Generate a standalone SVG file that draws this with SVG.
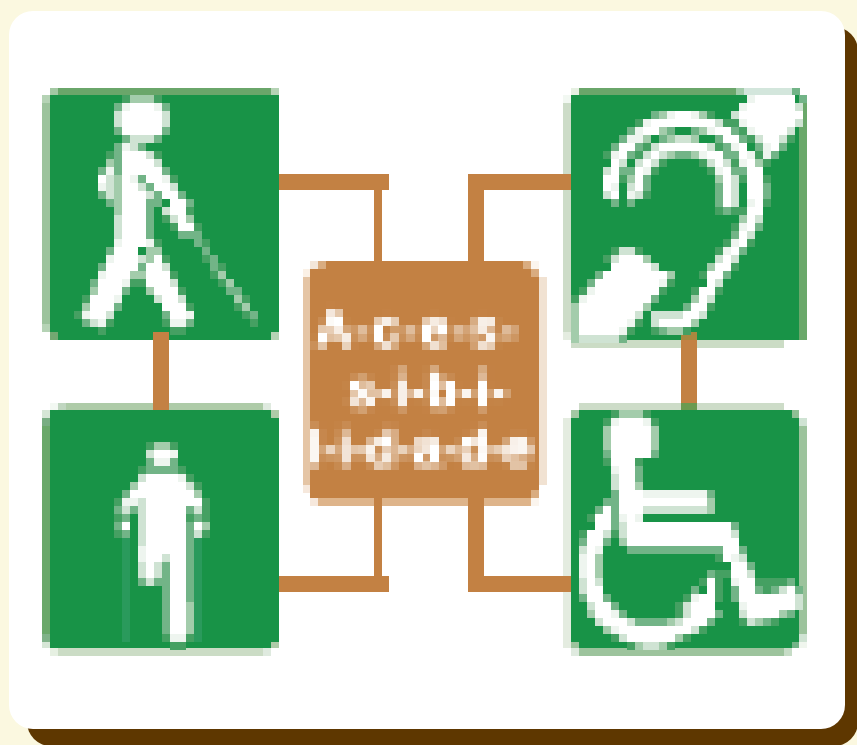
<svg xmlns="http://www.w3.org/2000/svg" width="857" height="745" viewBox="0 0 857 745">
<style>
.w{stroke:#fff}.n{stroke:#eef5ef}.l{stroke:#cfe3d3}.a{stroke:#a3ccab}.m{stroke:#72b487}.d{stroke:#45a062}.s{stroke:#2a9a5c}
path{fill:none;stroke-width:1}
.g{fill:#189347}.c{fill:#c38143}
rect{shape-rendering:crispEdges}
path{shape-rendering:crispEdges}
.t{font-family:"Liberation Sans",Arial,sans-serif;font-size:50px;fill:#fff;stroke:#fff;stroke-width:.6;text-anchor:middle}
</style>
<defs>
<filter id="pix" filterUnits="userSpaceOnUse" primitiveUnits="userSpaceOnUse" x="310" y="261" width="232" height="240" color-interpolation-filters="sRGB">
<feGaussianBlur in="SourceGraphic" stdDeviation="2.4" result="b"/>
<feFlood x="314" y="265" width="1" height="1" flood-color="#000"/>
<feComposite x="310" y="261" width="8" height="8"/>
<feTile x="310" y="261" width="232" height="240" result="a"/>
<feComposite in="b" in2="a" operator="in" x="310" y="261" width="232" height="240"/>
<feMorphology operator="dilate" radius="4" x="310" y="261" width="232" height="240"/>
<feComponentTransfer><feFuncA type="linear" slope="1.5"/></feComponentTransfer>
</filter>
</defs>
<rect width="857" height="745" fill="#fbf8e0"/>
<rect x="27" y="27" width="831" height="719" rx="24" fill="#5e3700" style="shape-rendering:auto"/>
<rect x="9" y="11" width="836" height="718" rx="24" fill="#fff" style="shape-rendering:auto"/>
<g id="connectors">
<rect class="c" x="279" y="174" width="110" height="16"/>
<rect class="c" x="374" y="174" width="8" height="88"/>
<rect class="c" x="468" y="174" width="103" height="16"/>
<rect class="c" x="468" y="174" width="16" height="88"/>
<rect class="c" x="374" y="498" width="8" height="94"/>
<rect class="c" x="279" y="576" width="110" height="16"/>
<rect class="c" x="468" y="498" width="16" height="94"/>
<rect class="c" x="468" y="576" width="103" height="16"/>
<rect class="c" x="153" y="332" width="16" height="78"/>
<rect class="c" x="681" y="332" width="16" height="78"/>
</g>
<g id="center">
<rect x="303" y="277" width="7" height="208" fill="#e5c5a5"/>
<rect x="539" y="277" width="8" height="208" fill="#f1e2d2"/>
<rect x="318" y="498" width="56" height="8" fill="#deb48a"/>
<rect x="382" y="498" width="86" height="8" fill="#deb48a"/>
<rect x="484" y="498" width="49" height="8" fill="#deb48a"/>
<rect class="c" x="318" y="261" width="213" height="8"/>
<rect class="c" x="310" y="269" width="229" height="229"/>
<rect x="310" y="261" width="8" height="8" fill="#f3e6d9"/>
<rect x="318" y="261" width="8" height="8" fill="#d9ac80"/>
<rect x="523" y="261" width="8" height="8" fill="#d9ac80"/>
<rect x="531" y="261" width="8" height="8" fill="#fbf5ee"/>
<rect x="531" y="269" width="8" height="8" fill="#d9ac80"/>
<rect x="303" y="269" width="7" height="8" fill="#fbf1e6"/>
<rect x="303" y="485" width="7" height="8" fill="#f6e8dc"/>
<rect x="310" y="498" width="8" height="8" fill="#f6e8dc"/>
<rect x="531" y="490" width="8" height="8" fill="#d9ac80"/>
<rect x="531" y="498" width="8" height="8" fill="#fbf5ee"/>
<g filter="url(#pix)">
<text class="t" x="417" y="346" textLength="200">A-c-e-s-</text>
<text class="t" x="428" y="407" textLength="158">s-i-b-i-</text>
<text class="t" x="421" y="465" textLength="222">l-i-d-a-d-e</text>
</g>
</g>
<g id="blind-walker">
<rect class="g" x="50" y="95" width="229" height="237"/>
<rect class="g" x="58" y="332" width="213" height="8"/>
<rect x="58" y="88" width="213" height="7" fill="#6aa66a"/>
<rect x="50" y="88" width="8" height="7" fill="#a3c8a3"/>
<rect x="271" y="88" width="8" height="7" fill="#b5d3b5"/>
<rect x="42" y="95" width="8" height="8" fill="#b5d3b5"/>
<rect x="42" y="103" width="8" height="221" fill="#9cc39c"/>
<rect x="42" y="324" width="8" height="8" fill="#b5d3b5"/>
<rect x="50" y="332" width="8" height="8" fill="#72a872"/>
<rect x="271" y="332" width="8" height="8" fill="#b5d3b5"/>
<rect x="153" y="332" width="16" height="8" fill="#c38143"/>
<g transform="translate(50,95) scale(8)">
<path class="w" d="M10 1.5h3M9 2.5h5M9 3.5h5M9 4.5h5M9 7.5h3M9 8.5h4M9 9.5h5M6 10.5h1M9 10.5h1M12 10.5h2M9 11.5h2M13 11.5h2M9 12.5h3M14 12.5h2M9 13.5h3M15 13.5h2M9 14.5h3M15 14.5h2M9 15.5h3M16 15.5h1M9 16.5h3M16 16.5h2M9 17.5h3M9 18.5h3M8 19.5h3M8 20.5h3M13 20.5h1M7 21.5h4M12 21.5h2M7 22.5h3M12 22.5h3M6 23.5h3M12 23.5h3M6 24.5h3M13 24.5h3M5 25.5h3M14 25.5h2M5 26.5h3M14 26.5h3M5 27.5h2M15 27.5h2"/>
<path class="n" d="M9 1.5h1M13 1.5h1M9 6.5h1M7 9.5h1M10 10.5h1M14 10.5h1M6 11.5h1M8 18.5h1M12 18.5h1M7 20.5h1M6 22.5h1M9 23.5h1M8 25.5h1M4 27.5h1M17 27.5h1M6 28.5h1M15 28.5h2"/>
<path class="l" d="M8 2.5h1M14 2.5h1M8 3.5h1M14 3.5h1M10 5.5h3M10 6.5h1M12 7.5h1M13 8.5h1M7 10.5h1M7 11.5h1M11 11.5h1M15 11.5h1M7 12.5h1M12 12.5h1M14 14.5h1M15 15.5h1M8 15.5h1M8 16.5h1M8 17.5h1M11 20.5h1M14 21.5h1M15 23.5h1M13 25.5h1M16 25.5h1M7 27.5h1M5 28.5h1"/>
<path class="a" d="M10 .5h3M7 8.5h1M8 10.5h1M8 11.5h1M8 12.5h1M8 13.5h1M8 14.5h1M12 19.5h2M12 20.5h1M10 22.5h2M17 15.5h1M5 24.5h1M12 24.5h1M4 26.5h1M21 22.5h1M22 23.5h1M23 25.5h1M24 26.5h1"/>
<path class="m" d="M8 1.5h1M14 1.5h1M8 4.5h1M14 4.5h1M9 5.5h1M13 5.5h1M8 6.5h1M11 6.5h1M8 7.5h1M8 8.5h1M6 9.5h1M8 9.5h1M14 9.5h1M11 10.5h1M12 11.5h1M6 12.5h1M13 12.5h1M16 12.5h1M7 13.5h1M12 13.5h2M17 13.5h1M12 14.5h1M12 15.5h1M12 16.5h1M12 17.5h1M16 17.5h3M18 18.5h1M7 19.5h1M19 19.5h1M20 20.5h1M6 21.5h1M11 21.5h1M20 21.5h1M5 23.5h1M9 24.5h1M22 24.5h2M8 26.5h1M14 27.5h1M25 27.5h1M4 28.5h1M17 28.5h1"/>
<path class="d" d="M9 .5h1M13 .5h1M7 7.5h1M13 7.5h1M15 10.5h1M17 14.5h1M14 15.5h1M15 16.5h1M18 16.5h1M13 18.5h1M19 18.5h1M14 20.5h1M19 20.5h1M21 21.5h1M15 22.5h1M20 22.5h1M10 23.5h2M21 23.5h1M16 24.5h1M4 25.5h1M24 25.5h1M17 26.5h1M23 26.5h1M3 27.5h1M24 27.5h1M7 28.5h1M14 28.5h1M25 28.5h1M6 29.5h1M15 29.5h2"/>
</g>
</g>
<g id="crutch-walker">
<rect class="g" x="50" y="410" width="229" height="238"/>
<rect x="58" y="403" width="205" height="7" fill="#aecba8"/>
<rect x="50" y="403" width="8" height="7" fill="#f2f8f2"/>
<rect x="58" y="403" width="8" height="7" fill="#c0d6c0"/>
<rect x="153" y="403" width="16" height="7" fill="#c38143"/>
<rect x="263" y="403" width="8" height="7" fill="#dfeadf"/>
<rect x="42" y="410" width="8" height="8" fill="#d6e6d6"/>
<rect x="42" y="418" width="8" height="8" fill="#78ad82"/>
<rect x="42" y="426" width="8" height="208" fill="#6aa86a"/>
<rect x="42" y="634" width="8" height="8" fill="#7fb288"/>
<rect x="42" y="642" width="8" height="6" fill="#d6e6d6"/>
<rect x="271" y="410" width="8" height="8" fill="#aecba8"/>
<rect x="58" y="648" width="205" height="8" fill="#cbdcc5"/>
<rect x="50" y="648" width="8" height="8" fill="#e6f0e2"/>
<rect x="263" y="648" width="8" height="8" fill="#dfeadf"/>
<rect x="271" y="642" width="8" height="6" fill="#aecba8"/>
<g transform="translate(50,410) scale(8)">
<path class="s" d="M9 16.5h1M9 17.5h1M9 18.5h1M9 19.5h1M9 20.5h1M9 21.5h1M9 22.5h1M9 23.5h1M9 24.5h1M9 25.5h1M9 26.5h1M9 27.5h1M9 28.5h1M18 16.5h1M18 17.5h1M18 18.5h1M18 19.5h1M18 20.5h1M18 21.5h1M18 22.5h1M18 23.5h1M18 24.5h1M18 25.5h1M18 26.5h1M18 27.5h1M18 28.5h1"/>
<path class="w" d="M13 5.5h2M12 8.5h4M11 9.5h6M10 10.5h8M12 11.5h7M12 12.5h5M12 13.5h5M9 14.5h1M12 14.5h5M18 14.5h1M12 15.5h5M12 16.5h5M12 17.5h5M12 18.5h2M15 18.5h2M12 19.5h1M15 19.5h2M12 20.5h1M15 20.5h2M15 21.5h2M15 22.5h2M15 23.5h2M15 24.5h2M15 25.5h2M15 26.5h2M15 27.5h2"/>
<path class="n" d="M15 5.5h1M13 6.5h2M16 8.5h1M9 11.5h2M11 17.5h1M11 18.5h1M15 28.5h2"/>
<path class="l" d="M12 5.5h1M11 8.5h1M17 9.5h1M11 11.5h1M9 12.5h1M11 12.5h1M18 12.5h1M11 13.5h1M11 14.5h1M11 15.5h1M18 15.5h1M11 16.5h1M14 18.5h1M11 19.5h1M13 19.5h1M11 20.5h1M13 20.5h1M12 21.5h1"/>
<path class="a" d="M13 4.5h2M10 9.5h1M18 10.5h1M19 14.5h1M17 24.5h1M17 25.5h1M17 26.5h1M17 27.5h1"/>
<path class="m" d="M12 6.5h1M15 6.5h1M12 7.5h4M9 10.5h1M8 12.5h1M10 12.5h1M17 12.5h1M9 13.5h1M18 13.5h1M8 14.5h1M17 14.5h1M9 15.5h1M17 15.5h1M17 16.5h1M17 17.5h1M17 18.5h1M14 19.5h1M17 19.5h1M14 20.5h1M17 20.5h1M11 21.5h1M13 21.5h2M17 21.5h1M14 22.5h1M17 22.5h1M14 23.5h1M17 23.5h1M14 24.5h1M14 25.5h1M14 26.5h1M14 27.5h1"/>
<path class="d" d="M12 4.5h1M15 4.5h1M11 7.5h1M16 7.5h1M17 8.5h1M18 9.5h1M8 11.5h1M19 11.5h1M19 12.5h1M8 13.5h1M17 13.5h1M19 13.5h1M8 15.5h1M19 15.5h1M14 28.5h1M17 28.5h1M15 29.5h2"/>
</g>
</g>
<g id="hearing">
<rect class="g" x="571" y="95" width="228" height="245"/>
<rect x="579" y="88" width="157" height="7" fill="#6aa66a"/>
<rect x="571" y="88" width="8" height="7" fill="#e6f0e2"/>
<rect x="563" y="95" width="8" height="8" fill="#f2f8f2"/>
<rect x="563" y="103" width="8" height="237" fill="#cddcc8"/>
<rect x="563" y="174" width="8" height="16" fill="#c38143"/>
<rect x="799" y="103" width="8" height="237" fill="#6aa86a"/>
<rect x="799" y="95" width="8" height="8" fill="#72b487"/>
<rect x="571" y="340" width="8" height="8" fill="#cddcc8"/>
<rect x="579" y="340" width="205" height="8" fill="#cbdcc5"/>
<rect x="681" y="332" width="16" height="8" fill="#a8883f"/>
<rect x="681" y="340" width="16" height="8" fill="#c38143"/>
<rect x="736" y="88" width="8" height="7" fill="#a3ccab"/>
<rect x="744" y="88" width="48" height="7" fill="#d3e6dc"/>
<rect x="792" y="88" width="8" height="7" fill="#72b487"/>
<rect x="563" y="332" width="8" height="8" fill="#e4ece0"/>
<g transform="translate(571,95) scale(8)">
<path class="w" d="M23 .5h5M22 1.5h6M13 2.5h2M21 2.5h8M10 3.5h8M22 3.5h6M9 4.5h2M18 4.5h2M23 4.5h4M19 5.5h2M24 5.5h2M6 6.5h2M11 6.5h6M21 6.5h1M25 6.5h1M6 7.5h1M10 7.5h1M17 7.5h2M21 7.5h1M5 8.5h1M9 8.5h1M18 8.5h1M22 8.5h1M5 9.5h1M8 9.5h1M19 9.5h1M22 9.5h2M4 10.5h2M8 10.5h1M19 10.5h1M22 10.5h2M4 11.5h1M8 11.5h1M19 11.5h1M22 11.5h2M5 12.5h1M19 12.5h1M22 12.5h2M19 13.5h1M23 13.5h1M22 14.5h2M22 15.5h1M22 16.5h1M21 17.5h1M21 18.5h1M20 19.5h1M19 20.5h1M6 20.5h4M5 21.5h5M18 21.5h2M4 22.5h8M17 22.5h2M3 23.5h8M17 23.5h1M3 24.5h8M16 24.5h2M2 25.5h8M16 25.5h1M1 26.5h8M15 26.5h2M1 27.5h7M14 27.5h2M1 28.5h6M11 28.5h4M1 29.5h5"/>
<path class="n" d="M22 .5h1M21 1.5h1M12 2.5h1M15 2.5h1M9 3.5h1M21 3.5h1M8 4.5h1M17 4.5h1M22 4.5h1M7 5.5h2M10 6.5h1M20 6.5h1M24 6.5h1M5 7.5h1M9 7.5h1M16 7.5h1M22 7.5h1M24 7.5h1M21 8.5h1M9 9.5h1M18 9.5h1M5 11.5h1M7 12.5h1M22 13.5h1M21 16.5h1M20 18.5h1M19 19.5h1M2 24.5h1M1 25.5h1M11 23.5h1M7 28.5h1M6 29.5h1"/>
<path class="l" d="M28 1.5h1M20 2.5h1M18 3.5h1M28 3.5h1M13 5.5h2M23 5.5h1M26 5.5h1M27 4.5h1M10 6.5h1M17 6.5h1M9 7.5h1M11 7.5h1M6 8.5h1M8 8.5h1M10 8.5h1M17 8.5h1M19 8.5h1M4 9.5h1M7 11.5h1M20 10.5h1M20 11.5h1M4 12.5h1M8 12.5h1M20 12.5h1M20 13.5h1M23 15.5h1M22 17.5h1M6 19.5h2M5 20.5h1M18 20.5h1M10 21.5h1M20 20.5h1M18 23.5h1M17 25.5h1M8 27.5h1M10 27.5h4M16 27.5h1M10 28.5h1M1 30.5h5"/>
<path class="a" d="M11 2.5h1M16 2.5h1M11 4.5h1M16 4.5h1M9 5.5h1M12 5.5h1M15 5.5h1M12 7.5h1M15 7.5h1M23 8.5h1M7 10.5h1M18 10.5h1M21 15.5h1M9 20.5h1M17 21.5h1M12 22.5h1M15 25.5h1M0 26.5h1M0 27.5h1M0 28.5h1M15 28.5h1M0 29.5h1M12 29.5h2M0 30.5h1M9 26.5h1"/>
<path class="m" d="M10 2.5h1M7 4.5h1M12 4.5h1M15 4.5h1M20 4.5h1M6 5.5h1M11 5.5h1M18 5.5h1M21 5.5h1M5 6.5h1M8 6.5h1M19 6.5h1M23 6.5h1M26 6.5h1M7 7.5h1M13 7.5h2M19 7.5h1M20 7.5h1M25 7.5h1M6 9.5h2M20 9.5h1M21 9.5h1M9 10.5h1M9 11.5h1M18 11.5h1M24 11.5h1M18 12.5h1M24 12.5h1M5 13.5h1M7 13.5h1M18 13.5h1M19 14.5h1M23 16.5h1M20 17.5h1M21 19.5h1M19 22.5h1M3 22.5h1M2 23.5h1M10 25.5h1M14 26.5h1M11 29.5h1M6 30.5h1"/>
<path class="d" d="M17 2.5h1M8 3.5h1M19 3.5h2M21 4.5h1M22 5.5h1M9 6.5h1M18 6.5h1M27 5.5h1M4 7.5h1M8 7.5h1M23 7.5h1M11 8.5h1M16 8.5h1M20 8.5h1M24 8.5h1M10 9.5h1M17 9.5h1M6 10.5h1M21 10.5h1M24 10.5h1M9 12.5h1M24 13.5h1M18 14.5h1M20 14.5h2M20 16.5h1M19 18.5h1M22 18.5h1M5 19.5h1M8 19.5h1M18 19.5h1M4 20.5h1M20 21.5h1M16 22.5h1M12 23.5h1M1 24.5h1M11 24.5h1M15 24.5h1M18 24.5h1M0 25.5h1M17 26.5h1M8 28.5h1M7 29.5h1M10 29.5h1M14 29.5h1"/>
</g>
</g>
<g id="wheelchair">
<rect class="g" x="571" y="410" width="228" height="238"/>
<rect x="579" y="403" width="205" height="7" fill="#cddcc8"/>
<rect x="681" y="403" width="16" height="7" fill="#6a9a50"/>
<rect x="563" y="418" width="8" height="230" fill="#e4ece0"/>
<rect x="563" y="576" width="8" height="16" fill="#c38143"/>
<rect x="571" y="410" width="8" height="8" fill="#a3c8a3"/>
<rect x="799" y="426" width="8" height="208" fill="#9cc39c"/>
<rect x="799" y="418" width="8" height="8" fill="#cfe3d3"/>
<rect x="792" y="410" width="7" height="8" fill="#8fbf94"/>
<rect x="799" y="634" width="8" height="8" fill="#cfe3d3"/>
<rect x="579" y="648" width="205" height="8" fill="#9cc39c"/>
<rect x="571" y="642" width="8" height="6" fill="#9cc39c"/>
<rect x="571" y="648" width="8" height="8" fill="#dfeadf"/>
<rect x="784" y="648" width="8" height="8" fill="#c6dcc6"/>
<rect x="792" y="642" width="7" height="6" fill="#72b487"/>
<rect x="799" y="642" width="8" height="6" fill="#f0f6ee"/>
<g transform="translate(571,410) scale(8)">
<path class="w" d="M6 1.5h3M5 2.5h5M5 3.5h5M5 4.5h5M5 5.5h5M5 6.5h3M6 7.5h2M6 8.5h2M6 9.5h2M6 10.5h3M6 11.5h11M4 12.5h1M6 12.5h3M3 13.5h2M7 13.5h1M3 14.5h2M7 14.5h13M2 15.5h2M7 15.5h13M2 16.5h2M7 16.5h14M2 17.5h1M19 17.5h2M2 18.5h1M19 18.5h1M2 19.5h1M20 19.5h2M2 20.5h1M20 20.5h2M17 20.5h1M2 21.5h1M17 21.5h1M21 21.5h2M2 22.5h2M17 22.5h1M21 22.5h2M27 22.5h1M2 23.5h2M16 23.5h2M21 23.5h7M3 24.5h2M15 24.5h3M22 24.5h6M3 25.5h2M15 25.5h3M22 25.5h4M4 26.5h3M14 26.5h3M6 27.5h9M7 28.5h6"/>
<path class="n" d="M5 1.5h1M9 1.5h1M5 7.5h1M9 10.5h8M6 13.5h1M8 13.5h1M1 18.5h1M20 18.5h1M1 19.5h1M1 20.5h1M3 17.5h1M20 21.5h1M15 23.5h1M21 24.5h1M5 25.5h1M5 27.5h1"/>
<path class="l" d="M5 8.5h1M5 9.5h1M9 12.5h8M6 14.5h1M6 15.5h1M1 17.5h1M4 15.5h1M20 15.5h1M21 18.5h1M22 20.5h1M1 21.5h1M3 21.5h1M1 22.5h1M26 22.5h1M28 23.5h1M2 24.5h1M28 24.5h1M21 25.5h1M14 25.5h1M14 24.5h1M3 26.5h1M7 26.5h1M13 26.5h1M15 27.5h1M22 26.5h1M6 28.5h1M9 29.5h2"/>
<path class="a" d="M6 .5h3M4 2.5h1M10 2.5h1M4 3.5h1M10 3.5h1M4 4.5h1M10 4.5h1M8 9.5h1M17 11.5h1M17 12.5h1M6 16.5h1M3 18.5h1M3 19.5h1M3 20.5h1M2 25.5h1M26 25.5h1M23 26.5h1M12 26.5h1M4 27.5h1M13 28.5h1M8 29.5h1M11 29.5h1"/>
<path class="m" d="M4 5.5h1M10 5.5h1M8 7.5h1M8 8.5h1M5 10.5h1M17 10.5h1M4 11.5h1M5 11.5h1M3 12.5h1M5 12.5h1M5 13.5h1M5 14.5h1M20 14.5h1M1 16.5h1M4 16.5h1M7 17.5h11M18 17.5h1M21 17.5h1M22 19.5h1M17 20.5h1M27 21.5h1M15 22.5h1M20 22.5h1M23 22.5h1M25 22.5h1M28 22.5h1M1 23.5h1M4 23.5h1M20 23.5h1M5 24.5h1M6 25.5h1M18 25.5h1M27 25.5h1M8 26.5h4M17 26.5h1M24 26.5h1"/>
<path class="d" d="M5 .5h1M9 .5h1M4 1.5h1M10 1.5h1M4 6.5h1M8 6.5h1M2 13.5h1M1 15.5h1M5 15.5h1M18 18.5h1M18 20.5h1M19 20.5h1M16 21.5h1M18 21.5h1M23 21.5h1M24 21.5h3M18 22.5h1M24 22.5h1M14 23.5h1M18 23.5h1M13 24.5h1M13 25.5h1M21 26.5h1M25 26.5h1M16 27.5h1M5 28.5h1M14 28.5h1M7 29.5h1M12 29.5h1"/>
</g>
</g>
</svg>
